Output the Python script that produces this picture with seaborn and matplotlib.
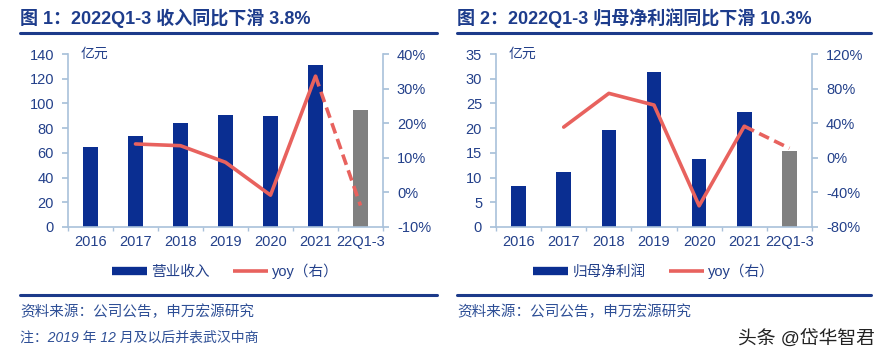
import matplotlib.pyplot as plt
import numpy as np
import seaborn as sns
import pandas as pd
from matplotlib.lines import Line2D

# data
cats = ["2016", "2017", "2018", "2019", "2020", "2021", "22Q1-3"]
revenue = [65, 74, 84, 91, 90, 131, 95]
revenue_yoy = [np.nan, 14.0, 13.5, 8.7, -0.8, 33.6, -3.8]
profit = [8.3, 11.2, 19.6, 31.3, 13.7, 23.3, 15.4]
profit_yoy = [np.nan, 35.5, 74.5, 61.0, -55.5, 36.5, 11.0]

NAVY = "#0A2E91"
GREY = "#808080"
RED = "#E8625E"
TXT = "#23408A"
SPINE = "#A9C1DA"
TITLE = "#1D3C8C"

sns.set_theme(style="white")
plt.rcParams["font.family"] = ["Liberation Sans", "Noto Sans CJK SC", "DejaVu Sans"]
plt.rcParams["axes.unicode_minus"] = False

W, H = 886, 361
fig = plt.figure(figsize=(W / 100, H / 100), dpi=100)


def fx(px):
    return px / W


def fy(py):
    return 1 - py / H


def draw_panel(x0, x1, vals, yoy, ylim, yticks, rlim, rticks, bar_label, title):
    ax = fig.add_axes([fx(x0), fy(227), fx(x1) - fx(x0), fy(54) - fy(227)])
    df = pd.DataFrame({"cat": cats, "val": vals})
    colors = [NAVY] * (len(cats) - 1) + [GREY]
    sns.barplot(data=df, x="cat", y="val", hue="cat", palette=colors,
                legend=False, width=0.32, ax=ax, saturation=1, linewidth=0)
    ax.set_xlim(-0.5, len(cats) - 0.5)
    ax.set_ylim(*ylim)
    ax.set_yticks(yticks)
    ax.set_xlabel("")
    ax.set_ylabel("")
    for s in ["top", "right"]:
        ax.spines[s].set_visible(False)
    for s in ["left", "bottom"]:
        ax.spines[s].set_color(SPINE)
        ax.spines[s].set_linewidth(1.2)
    ax.set_xticks(np.arange(-0.5, len(cats)), minor=True)
    ax.tick_params(axis="x", which="major", length=0, colors=TXT, labelsize=10.5, pad=6)
    ax.tick_params(axis="x", which="minor", length=3, color=SPINE, direction="out", bottom=True)
    ax.tick_params(axis="y", length=4, direction="out", left=True,
                   colors=TXT, labelsize=10.5, pad=6)
    ax.tick_params(axis="y", color=SPINE)
    ax.text(0.04, 1.0, "亿元", transform=ax.transAxes, color=TXT, fontsize=10,
            va="center", ha="left")

    ax2 = ax.twinx()
    xi = np.arange(len(cats))
    solid = pd.DataFrame({"x": xi[:-1], "y": yoy[:-1]}).dropna()
    dash = pd.DataFrame({"x": xi[-2:], "y": yoy[-2:]})
    sns.lineplot(data=solid, x="x", y="y", color=RED, lw=2.6, ax=ax2)
    sns.lineplot(data=dash, x="x", y="y", color=RED, lw=2.6, ax=ax2,
                 linestyle=(0, (3, 1.6)))
    ax2.set_xlim(-0.5, len(cats) - 0.5)
    ax2.set_ylim(*rlim)
    ax2.set_yticks(rticks)
    ax2.set_yticklabels([f"{t:d}%" for t in rticks])
    ax2.set_ylabel("")
    ax2.set_xlabel("")
    for s in ["top", "left", "bottom"]:
        ax2.spines[s].set_visible(False)
    ax2.spines["right"].set_color(SPINE)
    ax2.spines["right"].set_linewidth(1.2)
    ax2.tick_params(axis="y", length=4, direction="out", right=True,
                    colors=TXT, labelsize=10.5, pad=6)
    ax2.tick_params(axis="y", color=SPINE)

    handles = [Line2D([], [], color=NAVY, lw=6, solid_capstyle="butt"),
               Line2D([], [], color=RED, lw=2.6, solid_capstyle="butt")]
    fig.legend(handles, [bar_label, "yoy（右）"], loc="center",
               bbox_to_anchor=(fx((x0 + x1) / 2), fy(271)), ncol=2, frameon=False,
               fontsize=10.5, handlelength=2.4, columnspacing=1.6, handletextpad=0.3,
               labelcolor=TXT)

    # title + rules
    lx0, lx1 = (20, 437) if x0 < 300 else (457, 871)
    fig.text(fx(lx0), fy(18), title, color=TITLE, fontsize=13, fontweight="bold",
             va="center", ha="left")
    fig.add_artist(Line2D([fx(lx0), fx(lx1)], [fy(33), fy(33)], color="#1C3A8A", lw=2.2))
    fig.add_artist(Line2D([fx(lx0), fx(lx1)], [fy(295), fy(295)], color="#1C3A8A", lw=2.2))
    fig.text(fx(lx0), fy(312), "资料来源：公司公告，申万宏源研究", color="#2E4F96",
             fontsize=10.5, va="center", ha="left")
    return ax


draw_panel(68, 383, revenue, revenue_yoy, (0, 140), range(0, 141, 20),
           (-10, 40), list(range(-10, 41, 10)), "营业收入",
           "图 1：2022Q1-3 收入同比下滑 3.8%")
draw_panel(496, 812, profit, profit_yoy, (0, 35), range(0, 36, 5),
           (-80, 120), list(range(-80, 121, 40)), "归母净利润",
           "图 2：2022Q1-3 归母净利润同比下滑 10.3%")

fig.text(fx(20), fy(338), "注：2019 年 12 月及以后并表武汉中商", color="#2E4F96",
         fontsize=10, style="italic", va="center", ha="left")
fig.text(fx(875), fy(340), "头条 @岱华智君", color="#222222", fontsize=13.5,
         va="center", ha="right")

fig.savefig("out.png", dpi=100)
